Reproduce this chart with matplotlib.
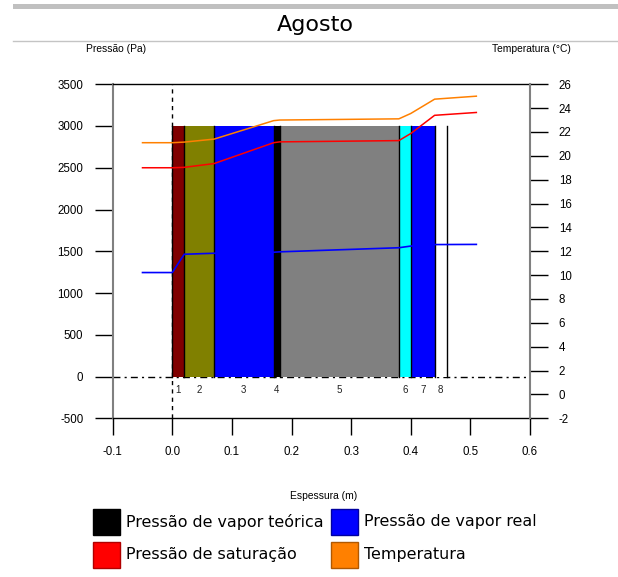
import matplotlib.pyplot as plt
from matplotlib.patches import Rectangle

plt.rcParams['axes.unicode_minus'] = False

# layers of the wall (m)
layer_left = [0.00, 0.02, 0.07, 0.17, 0.18, 0.38, 0.40, 0.44]
layer_right = [0.02, 0.07, 0.17, 0.18, 0.38, 0.40, 0.44, 0.46]
layer_colors = ['#800000', '#808000', '#0000ff', '#000000',
                '#808080', '#00ffff', '#0000ff', '#ffffff']
layer_names = ['1', '2', '3', '4', '5', '6', '7', '8']
layer_top = 3000

# profiles through the wall
pos = [-0.05, 0.0, 0.02, 0.07, 0.17, 0.18, 0.38, 0.40, 0.44, 0.51]
temperatura = [21.1, 21.1, 21.15, 21.4, 22.95, 23.0, 23.1, 23.55, 24.75, 25.0]
p_saturacao = [2500, 2500, 2505, 2550, 2800, 2810, 2825, 2910, 3128, 3162]
p_real = [1245, 1245, 1464, 1476, 1488, 1493, 1542, 1562, 1580, 1582]

x_ticks = [-0.1, 0.0, 0.1, 0.2, 0.3, 0.4, 0.5, 0.6]
p_ticks = [-500, 0, 500, 1000, 1500, 2000, 2500, 3000, 3500]
t_ticks = list(range(-2, 27, 2))

legend_labels = ['Pressão de vapor teórica', 'Pressão de vapor real',
                 'Pressão de saturação', 'Temperatura']
legend_colors = ['#000000', '#0000ff', '#ff0000', '#ff8000']
legend_edges = ['#000000', '#0000a0', '#b00000', '#b05800']

W, H = 618, 577
fig = plt.figure(figsize=(W / 100, H / 100), dpi=100)

# overlay for header and legend (pixel coords)
ov = fig.add_axes([0, 0, 1, 1])
ov.set_xlim(0, W)
ov.set_ylim(H, 0)
ov.axis('off')
ov.add_patch(Rectangle((13, 4), W - 13, 4.5, color='#c0c0c0', lw=0))
ov.plot([13, W], [40.7, 40.7], color='#c4c4c4', lw=1)
ov.text(315, 25, 'Agosto', fontsize=16, family='DejaVu Sans', ha='center', va='center')
ov.text(116, 49, 'Pressão (Pa)', fontsize=7.4, family='Liberation Sans', ha='center', va='center')
ov.text(531, 49, 'Temperatura (°C)', fontsize=7.4, family='Liberation Sans', ha='center', va='center')
ov.text(324, 496, 'Espessura (m)', fontsize=7.4, family='Liberation Sans', ha='center', va='center')

leg_x = [92.5, 331]
leg_y = [508.5, 541.5]
for i, (lab, c, ec) in enumerate(zip(legend_labels, legend_colors, legend_edges)):
    lx = leg_x[i % 2]
    ly = leg_y[i // 2]
    ov.add_patch(Rectangle((lx, ly), 27, 26, facecolor=c, edgecolor=ec, lw=1))
    ov.text(lx + 33.5, ly + 13, lab, fontsize=11.4, family='DejaVu Sans',
            ha='left', va='center')

# main axes
ax = fig.add_axes([112.7 / W, 1 - 418.25 / H, (530 - 112.7) / W, 334 / H])
ax.set_xlim(-0.1, 0.6)
ax.set_ylim(-500, 3500)
ax.patch.set_alpha(0)

# dashed reference lines
ax.plot([-0.1, 0.6], [0, 0], color='black', lw=1, linestyle=(0, (5, 3, 1.5, 3)), zorder=1)
ax.plot([0, 0], [-500, 3500], color='black', lw=1, linestyle=(0, (3, 3)), zorder=1)

for xl, xr, c, n in zip(layer_left, layer_right, layer_colors, layer_names):
    ax.bar(xl, layer_top, width=xr - xl, align='edge', color=c, lw=0, zorder=2)
    ax.text((xl + xr) / 2, -160, n, fontsize=7, family='Liberation Sans',
            ha='center', va='center', color='#222222')
for xb in layer_right:
    ax.plot([xb, xb], [0, layer_top], color='black', lw=1, zorder=3)
ax.plot([0, 0], [0, layer_top], color='black', lw=1, zorder=3)

ax.plot(pos, p_saturacao, color='#ff0000', lw=1.1, zorder=4)
ax.plot(pos, p_real, color='#0000ff', lw=1.2, zorder=4)

ax.set_xticks(x_ticks)
ax.set_xticklabels(['%.1f' % v for v in x_ticks])
ax.set_yticks(p_ticks)
ax.tick_params(axis='y', direction='out', length=12.7, width=1, pad=8.4,
               labelsize=8.3)
ax.tick_params(axis='x', direction='out', length=12.2, width=1, pad=8,
               labelsize=8.3)
for lab in ax.get_xticklabels() + ax.get_yticklabels():
    lab.set_family('Liberation Sans')
ax.spines['top'].set_linewidth(1)
ax.spines['bottom'].set_linewidth(1)
ax.spines['left'].set_color('#808080')
ax.spines['left'].set_linewidth(1.5)
ax.spines['right'].set_visible(False)

ax2 = ax.twinx()
ax2.set_ylim(-2, 26)
ax2.plot(pos, temperatura, color='#ff8000', lw=1.1, zorder=4)
ax2.set_yticks(t_ticks)
ax2.tick_params(axis='y', direction='out', length=12.7, width=1, pad=8,
                labelsize=8.3)
for lab in ax2.get_yticklabels():
    lab.set_family('Liberation Sans')
for s in ['top', 'bottom', 'left']:
    ax2.spines[s].set_visible(False)
ax2.spines['right'].set_color('#808080')
ax2.spines['right'].set_linewidth(1.5)

fig.savefig('out.png', dpi=100)
